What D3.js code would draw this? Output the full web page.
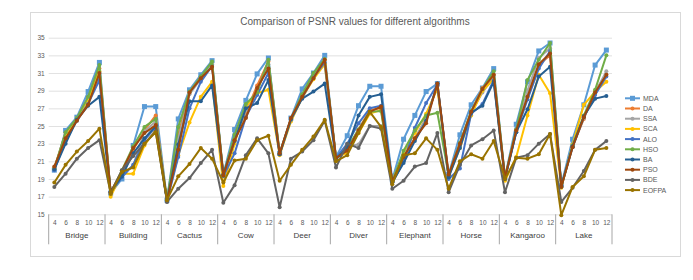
<!DOCTYPE html>
<html>
<head>
<meta charset="utf-8">
<script src="https://cdn.jsdelivr.net/npm/d3@7"></script>
<style>
body { margin: 0; background: #fff; }
text { font-family: "Liberation Sans", Arial, sans-serif; }
</style>
</head>
<body>
<div class="chart"></div>
<script>
var categories = [`Bridge`, `Building`, `Cactus`, `Cow`, `Deer`, `Diver`, `Elephant`, `Horse`, `Kangaroo`, `Lake`];
var levels = [4, 6, 8, 10, 12];
var yTicks = [15, 17, 19, 21, 23, 25, 27, 29, 31, 33, 35];
var seriesNames = [`MDA`, `DA`, `SSA`, `SCA`, `ALO`, `HSO`, `BA`, `PSO`, `BDE`, `EOFPA`];

var mda = [20.0, 24.5, 26.0, 28.9, 32.2, 17.4, 19.0, 22.8, 27.2, 27.2, 16.6, 25.8, 29.1, 30.8, 32.4, 19.5, 24.6, 27.9, 30.9, 32.7, 21.9, 25.9, 29.2, 31.0, 33.0,
    21.5, 23.9, 27.3, 29.5, 29.5, 18.9, 23.5, 26.2, 28.9, 29.8, 19.5, 24.0, 27.4, 29.3, 31.5, 19.2, 25.2, 30.0, 33.5, 34.4, 18.3, 23.5, 27.4, 31.9, 33.6];
var da = [20.3, 24.2, 25.8, 28.2, 31.5, 17.5, 19.8, 22.3, 24.5, 26.2, 16.5, 24.0, 28.8, 30.5, 31.9, 19.4, 23.5, 26.5, 29.6, 32.3, 21.8, 25.8, 28.4, 30.6, 32.5,
    21.3, 22.3, 24.6, 26.8, 27.0, 18.7, 21.5, 23.6, 25.8, 29.6, 19.4, 23.0, 26.6, 29.3, 30.8, 19.1, 24.5, 28.5, 31.9, 33.0, 18.2, 22.7, 25.8, 29.0, 30.8];
var ssa = [20.2, 24.0, 25.9, 28.0, 30.5, 17.3, 19.5, 20.5, 24.4, 25.5, 16.4, 23.5, 28.6, 30.3, 32.0, 19.3, 23.2, 26.8, 29.0, 32.0, 21.8, 25.7, 28.5, 30.8, 31.9,
    21.2, 22.7, 22.9, 25.0, 25.0, 18.6, 21.0, 23.5, 26.0, 29.5, 19.3, 22.8, 26.5, 28.8, 30.5, 19.0, 24.4, 29.0, 32.7, 33.8, 18.1, 22.6, 25.9, 28.8, 31.2];
var sca = [20.1, 23.8, 25.7, 27.8, 31.2, 17.0, 19.6, 19.6, 22.8, 24.6, 16.7, 21.7, 25.4, 28.3, 30.0, 18.2, 23.0, 27.2, 28.7, 29.1, 21.7, 25.5, 28.2, 30.3, 32.0,
    21.4, 22.0, 24.2, 26.4, 26.8, 18.8, 22.0, 24.2, 26.4, 29.2, 19.3, 22.5, 26.2, 29.0, 30.3, 18.8, 21.5, 26.2, 30.8, 28.7, 18.0, 22.9, 27.4, 28.9, 30.0];
var alo = [20.0, 23.4, 25.6, 27.5, 30.2, 17.5, 19.2, 20.6, 23.4, 24.9, 16.5, 21.5, 27.0, 30.0, 31.8, 19.3, 21.9, 26.0, 28.5, 31.0, 21.8, 25.7, 28.2, 30.5, 32.2,
    21.4, 23.0, 25.3, 27.0, 27.3, 18.6, 21.0, 24.8, 27.6, 29.7, 19.0, 20.2, 26.4, 27.5, 30.2, 19.1, 24.3, 28.0, 31.5, 33.5, 18.2, 22.6, 26.0, 28.5, 30.6];
var hso = [20.2, 24.3, 25.9, 28.3, 31.9, 17.4, 20.0, 22.7, 24.9, 25.8, 16.6, 24.9, 28.9, 30.6, 32.3, 19.4, 24.0, 27.5, 28.8, 32.5, 21.9, 25.8, 28.6, 31.0, 32.6,
    21.3, 22.5, 24.6, 26.6, 26.7, 18.7, 22.2, 24.5, 26.2, 26.5, 19.4, 23.1, 26.7, 29.2, 31.2, 19.2, 24.6, 30.2, 32.5, 34.4, 18.1, 22.8, 26.2, 29.1, 33.0];
var ba = [20.1, 23.0, 25.7, 27.3, 28.3, 17.6, 19.3, 21.9, 23.6, 25.0, 16.5, 22.9, 27.8, 27.8, 29.6, 19.5, 23.3, 27.0, 27.6, 30.2, 21.8, 25.8, 28.1, 28.9, 29.8,
    21.3, 22.5, 26.2, 28.3, 28.6, 18.6, 20.8, 23.3, 25.6, 29.8, 19.2, 22.5, 26.5, 27.3, 30.0, 19.0, 24.3, 26.9, 30.6, 31.7, 18.2, 22.7, 26.1, 28.1, 28.4];
var pso = [20.4, 23.6, 25.6, 27.4, 31.0, 17.5, 19.9, 22.5, 24.2, 25.1, 16.5, 22.3, 28.8, 30.4, 31.7, 19.4, 23.4, 25.9, 29.3, 31.5, 21.9, 25.9, 28.3, 30.4, 32.5,
    21.4, 22.2, 24.5, 26.6, 27.2, 18.7, 21.5, 23.6, 25.3, 29.8, 19.5, 23.0, 26.6, 29.2, 30.8, 19.1, 24.5, 28.3, 32.0, 33.2, 18.1, 22.6, 26.0, 28.8, 30.8];
var bde = [18.1, 19.6, 21.3, 22.5, 23.4, 17.4, 20.0, 21.6, 23.0, 24.4, 16.4, 17.9, 19.1, 20.8, 22.3, 16.3, 18.3, 21.7, 23.6, 21.9, 15.8, 21.3, 22.1, 23.4, 25.6,
    20.3, 23.0, 22.5, 25.0, 24.7, 17.9, 18.8, 20.4, 20.8, 24.2, 17.5, 20.6, 22.8, 23.5, 24.5, 17.5, 21.4, 21.7, 23.0, 24.1, 16.4, 18.0, 19.9, 22.3, 23.3];
var eofpa = [18.6, 20.6, 22.1, 23.3, 24.7, 17.3, 19.8, 20.3, 23.0, 24.3, 16.6, 19.3, 20.7, 22.5, 21.3, 18.6, 21.1, 21.3, 23.4, 23.9, 18.8, 20.6, 22.3, 23.8, 25.7,
    21.0, 21.7, 24.2, 26.6, 24.9, 18.4, 21.7, 21.9, 23.6, 22.3, 17.9, 21.0, 21.8, 21.3, 23.3, 19.0, 21.4, 21.3, 21.8, 24.1, 14.9, 18.1, 19.3, 22.3, 22.5];

var allValues = [mda, da, ssa, sca, alo, hso, ba, pso, bde, eofpa];
var colors = [`#5B9BD5`, `#ED7D31`, `#A5A5A5`, `#FFC000`, `#4472C4`, `#70AD47`, `#255E91`, `#9E480E`, `#636363`, `#997300`];

var fullWidth = 693;
var fullHeight = 280;
var plot = {left: 48.7, right: 612, top: 37.7, bottom: 214.3};

var svg = d3.select(`.chart`)
    .append(`svg`)
    .attr(`width`, fullWidth)
    .attr(`height`, fullHeight)
    .attr(`viewBox`, `0 0 ${fullWidth} ${fullHeight}`);

// chart area frame
svg.append(`rect`)
    .attr(`x`, 30.5)
    .attr(`y`, 12.5)
    .attr(`width`, 650)
    .attr(`height`, 244)
    .style(`fill`, `#fff`)
    .style(`stroke`, `#D9D9D9`);

svg.append(`text`)
    .attr(`x`, 355)
    .attr(`y`, 25)
    .style(`text-anchor`, `middle`)
    .style(`font-size`, `10px`)
    .style(`fill`, `#595959`)
    .text(`Comparison of PSNR values for different algorithms`);

var keys = [];
categories.forEach(c => levels.forEach(l => keys.push(`${c}-${l}`)));

var xScale = d3.scalePoint()
    .domain(keys)
    .range([plot.left, plot.right])
    .padding(0.5);

var catScale = d3.scaleBand()
    .domain(categories)
    .range([plot.left, plot.right]);

var yScale = d3.scaleLinear()
    .domain([15, 35])
    .range([plot.bottom, plot.top]);

var yAxis = d3.axisLeft(yScale)
    .tickValues(yTicks)
    .tickSize(-(plot.right - plot.left))
    .tickPadding(4);

var gy = svg.append(`g`)
    .attr(`transform`, `translate(${plot.left},0)`)
    .call(yAxis);
gy.select(`.domain`).remove();
gy.selectAll(`line`).style(`stroke`, `#D9D9D9`).style(`stroke-width`, 0.8);
gy.selectAll(`text`).style(`font-size`, `6.5px`).style(`fill`, `#595959`);

// level ticks under the axis
var xAxis = d3.axisBottom(xScale)
    .tickSize(0)
    .tickPadding(6)
    .tickFormat(d => d.split(`-`)[1]);

var gx = svg.append(`g`)
    .attr(`transform`, `translate(0,${plot.bottom})`)
    .call(xAxis);
gx.select(`.domain`).remove();
gx.selectAll(`text`).style(`font-size`, `6.5px`).style(`fill`, `#595959`);

// category group labels and separators
var catAxis = d3.axisBottom(catScale)
    .tickSize(0)
    .tickPadding(18);

var gc = svg.append(`g`)
    .attr(`transform`, `translate(0,${plot.bottom})`)
    .call(catAxis);
gc.select(`.domain`).remove();
gc.selectAll(`text`).style(`font-size`, `8px`).style(`fill`, `#404040`);

svg.selectAll(`.sep`)
    .data(categories.concat([null]))
    .enter()
    .append(`line`)
    .attr(`class`, `sep`)
    .attr(`x1`, d => d === null ? plot.right : catScale(d))
    .attr(`x2`, d => d === null ? plot.right : catScale(d))
    .attr(`y1`, plot.bottom)
    .attr(`y2`, plot.bottom + 30)
    .style(`stroke`, `#A6A6A6`)
    .style(`stroke-width`, 1);

var line = d3.line()
    .x((d, i) => xScale(keys[i]))
    .y(d => yScale(d));

var series = svg.selectAll(`.series`)
    .data(allValues)
    .enter()
    .append(`g`)
    .attr(`class`, `series`);

series.append(`path`)
    .attr(`d`, d => line(d))
    .style(`fill`, `none`)
    .style(`stroke`, (d, i) => colors[i])
    .style(`stroke-width`, 2)
    .style(`stroke-linejoin`, `round`);

series.each(function(vals, s) {
    var g = d3.select(this);
    if (s === 0) {
        g.selectAll(`rect`)
            .data(vals)
            .enter()
            .append(`rect`)
            .attr(`x`, (d, i) => xScale(keys[i]) - 2.5)
            .attr(`y`, d => yScale(d) - 2.5)
            .attr(`width`, 5)
            .attr(`height`, 5)
            .style(`fill`, colors[s]);
    } else {
        g.selectAll(`circle`)
            .data(vals)
            .enter()
            .append(`circle`)
            .attr(`cx`, (d, i) => xScale(keys[i]))
            .attr(`cy`, d => yScale(d))
            .attr(`r`, 2)
            .style(`fill`, colors[s]);
    }
});

// legend
var legend = svg.selectAll(`.legend`)
    .data(seriesNames)
    .enter()
    .append(`g`)
    .attr(`class`, `legend`)
    .attr(`transform`, (d, i) => `translate(625, ${98.3 + i * 10.2})`);

legend.append(`line`)
    .attr(`x1`, 0)
    .attr(`x2`, 15)
    .style(`stroke`, (d, i) => colors[i])
    .style(`stroke-width`, 2);

legend.each(function(d, i) {
    var g = d3.select(this);
    if (i === 0) {
        g.append(`rect`).attr(`x`, 5).attr(`y`, -2.5).attr(`width`, 5).attr(`height`, 5).style(`fill`, colors[i]);
    } else {
        g.append(`circle`).attr(`cx`, 7.5).attr(`cy`, 0).attr(`r`, 2).style(`fill`, colors[i]);
    }
});

legend.append(`text`)
    .attr(`x`, 18)
    .attr(`y`, 2.5)
    .style(`font-size`, `7px`)
    .style(`fill`, `#595959`)
    .text(d => d);
</script>
</body>
</html>
